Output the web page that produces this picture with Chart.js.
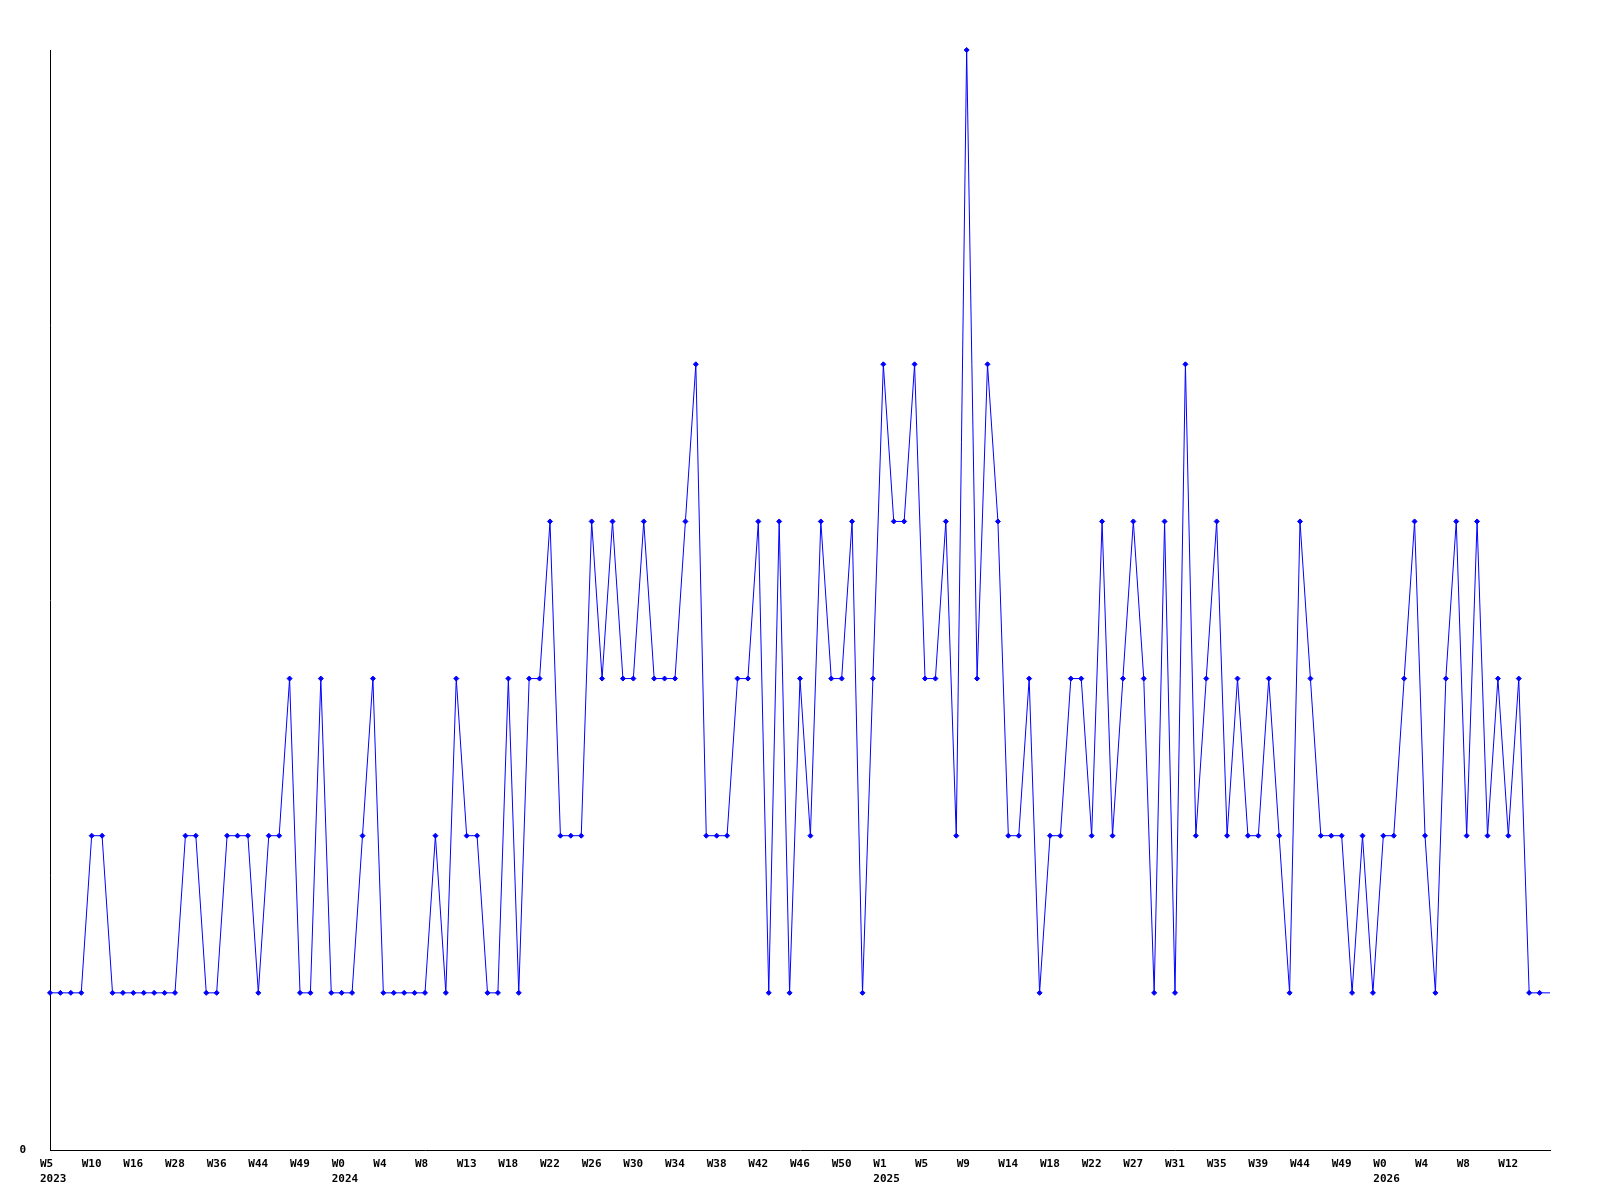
<!DOCTYPE html>
<html>
<head>
<meta charset="utf-8">
<script src="https://cdn.jsdelivr.net/npm/chart.js@4"></script>
<style>
    body { margin: 0; background: #ffffff; }
    #chart { display: block; }
</style>
</head>
<body>
<canvas id="chart" width="1600" height="1200"></canvas>
<script>
// weekly counts, one per point
var counts = [
    1, 1, 1, 1, 2, 2, 1, 1, 1, 1, 1, 1, 1, 2, 2, 1, 1, 2, 2, 2,
    1, 2, 2, 3, 1, 1, 3, 1, 1, 1, 2, 3, 1, 1, 1, 1, 1, 2, 1, 3,
    2, 2, 1, 1, 3, 1, 3, 3, 4, 2, 2, 2, 4, 3, 4, 3, 3, 4, 3, 3,
    3, 4, 5, 2, 2, 2, 3, 3, 4, 1, 4, 1, 3, 2, 4, 3, 3, 4, 1, 3,
    5, 4, 4, 5, 3, 3, 4, 2, 7, 3, 5, 4, 2, 2, 3, 1, 2, 2, 3, 3,
    2, 4, 2, 3, 4, 3, 1, 4, 1, 5, 2, 3, 4, 2, 3, 2, 2, 3, 2, 1,
    4, 3, 2, 2, 2, 1, 2, 1, 2, 2, 3, 4, 2, 1, 3, 4, 2, 4, 2, 3,
    2, 3, 1, 1, 1
];

// a tick label every 4th point
var tickWeeks = [
    'W5', 'W10', 'W16', 'W28', 'W36', 'W44', 'W49', 'W0', 'W4', 'W8',
    'W13', 'W18', 'W22', 'W26', 'W30', 'W34', 'W38', 'W42', 'W46', 'W50',
    'W1', 'W5', 'W9', 'W14', 'W18', 'W22', 'W27', 'W31', 'W35', 'W39',
    'W44', 'W49', 'W0', 'W4', 'W8', 'W12'
];
var tickYears = ['2023', '', '', '', '', '', '', '2024', '', '',
    '', '', '', '', '', '', '', '', '', '',
    '2025', '', '', '', '', '', '', '', '', '',
    '', '', '2026', '', '', ''];
var tickEvery = 4;
var yTicks = [0];

var labels = counts.map(function (v, i) {
    return i % tickEvery === 0 && tickWeeks[i / tickEvery] ? tickWeeks[i / tickEvery] : '';
});

function xTickLabel(value, index) {
    if (index % tickEvery !== 0) return '';
    var k = index / tickEvery;
    if (!tickWeeks[k]) return '';
    if (tickYears[k]) return [tickWeeks[k], tickYears[k]];
    return tickWeeks[k];
}

var tickFont = { family: '"DejaVu Sans Mono", monospace', size: 11, weight: 'bold', lineHeight: '15px' };

var ctx = document.getElementById('chart');
var weeklyChart = new Chart(ctx, {
    type: 'line',
    data: {
        labels: labels,
        datasets: [{
            data: counts,
            borderColor: '#0000ff',
            backgroundColor: '#0000ff',
            borderWidth: 1,
            tension: 0,
            pointStyle: 'rectRot',
            pointRadius: function (c) {
                return c.dataIndex === counts.length - 1 ? 0 : 2.5;
            },
            pointBorderWidth: 1,
            pointBorderColor: '#0000ff',
            pointBackgroundColor: '#0000ff',
            clip: false
        }]
    },
    options: {
        responsive: false,
        animation: false,
        devicePixelRatio: 1,
        layout: {
            padding: { left: 0, top: 50, right: 50, bottom: 0 }
        },
        plugins: {
            legend: { display: false },
            tooltip: { enabled: false }
        },
        scales: {
            x: {
                type: 'category',
                offset: false,
                grid: { display: false, drawTicks: false },
                border: { display: true, color: '#000000', width: 1 },
                ticks: {
                    autoSkip: false,
                    maxRotation: 0,
                    minRotation: 0,
                    align: 'start',
                    labelOffset: -10,
                    padding: 7,
                    color: '#000000',
                    font: tickFont,
                    callback: xTickLabel
                },
                afterFit: function (s) { s.height = 50; }
            },
            y: {
                min: 0,
                max: 7,
                grid: { display: false, drawTicks: false },
                border: { display: true, color: '#000000', width: 1 },
                ticks: {
                    padding: 24,
                    color: '#000000',
                    font: tickFont
                },
                afterBuildTicks: function (s) {
                    s.ticks = yTicks.map(function (v) { return { value: v }; });
                },
                afterFit: function (s) { s.width = 50; }
            }
        }
    }
});
</script>
</body>
</html>
